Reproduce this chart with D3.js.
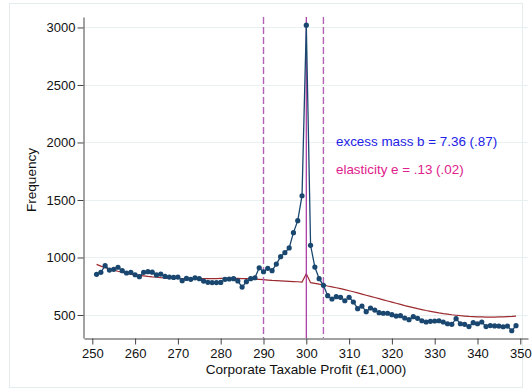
<!DOCTYPE html>
<html>
<head>
<meta charset="utf-8">
<script src="https://cdn.jsdelivr.net/npm/d3@7"></script>
<style>
  body { margin: 0; background: #fff; }
  text { font-family: "Liberation Sans", Arial, sans-serif; }
</style>
</head>
<body>
<div class="chart"></div>
<script>
const bins = d3.range(251, 350);
const frequency = [
  854, 871, 929, 891, 897, 915, 885, 865, 871, 850,
  833, 871, 877, 872, 848, 856, 835, 830, 827, 830,
  798, 818, 810, 823, 816, 795, 784, 782, 782, 783,
  810, 813, 816, 796, 743, 790, 816, 824, 910, 876,
  906, 885, 943, 1007, 1042, 1083, 1216, 1320, 1537, 3020,
  1106, 917, 816, 758, 668, 639, 659, 654, 624, 654,
  613, 555, 578, 529, 561, 543, 520, 515, 515, 503,
  491, 494, 474, 459, 485, 471, 450, 439, 445, 448,
  450, 439, 424, 419, 468, 424, 419, 399, 433, 424,
  439, 399, 408, 405, 404, 398, 404, 363, 407
];
const counterfactual = [
  940, 925, 912, 900, 890, 880, 871, 863, 856, 850,
  845, 840, 835, 831, 828, 825, 823, 821, 819, 818,
  817, 816, 816, 816, 816, 816, 816, 817, 817, 818,
  818, 818, 818, 818, 817, 816, 814, 812, 810, 807,
  804, 801, 799, 797, 795, 793, 791, 789, 786, 858,
  781, 775, 768, 761, 752, 745, 737, 729, 720, 711,
  702, 692, 682, 672, 662, 652, 642, 632, 622, 612,
  602, 592, 582, 573, 564, 555, 547, 539, 532, 525,
  518, 512, 507, 502, 498, 494, 491, 488, 486, 484,
  483, 482, 482, 482, 483, 484, 486, 488, 491
];
const xTicks = [250, 260, 270, 280, 290, 300, 310, 320, 330, 340, 350];
const yTicks = [500, 1000, 1500, 2000, 2500, 3000];
const windowLines = [290, 304];
const threshold = 300;
const notes = ['excess mass b = 7.36 (.87)', 'elasticity e = .13 (.02)'];

function displayChart() {
  const w = 532;
  const h = 391;
  const plot = { left: 84, right: 528, top: 17, bottom: 338 };

  const xScale = d3.scaleLinear()
    .domain([248.06, 351.8])
    .range([plot.left, plot.right]);
  const yScale = d3.scaleLinear()
    .domain([300, 3091])
    .range([plot.bottom, plot.top]);

  const svg = d3.select('.chart')
    .append('svg')
    .attr('width', w)
    .attr('height', h);

  // outer graph region
  svg.append('rect')
    .attr('x', 9.5)
    .attr('y', 3.5)
    .attr('width', 513)
    .attr('height', 384)
    .attr('fill', '#fff')
    .attr('stroke', '#e4ecee');

  // gridlines
  svg.append('g')
    .selectAll('line')
    .data(yTicks)
    .enter()
    .append('line')
    .attr('x1', plot.left)
    .attr('x2', plot.right)
    .attr('y1', (d) => Math.round(yScale(d)) + 0.5)
    .attr('y2', (d) => Math.round(yScale(d)) + 0.5)
    .attr('stroke', '#e8f0f1');

  const yAxis = svg.append('g')
    .attr('transform', `translate(${plot.left - 0.5}, 0)`)
    .call(d3.axisLeft(yScale).tickValues(yTicks).tickFormat(d3.format('d'))
      .tickSize(6).tickPadding(2).tickSizeOuter(0));
  const xAxis = svg.append('g')
    .attr('transform', `translate(0, ${plot.bottom + 0.5})`)
    .call(d3.axisBottom(xScale).tickValues(xTicks).tickFormat(d3.format('d'))
      .tickSize(6).tickPadding(4).tickSizeOuter(0));

  [yAxis, xAxis].forEach((a) => {
    a.select('.domain').attr('stroke', '#444');
    a.selectAll('.tick line').attr('stroke', '#444');
    a.selectAll('.tick text')
      .attr('fill', '#111')
      .style('font-size', '13px')
      .style('font-family', '"Liberation Sans", Arial, sans-serif');
  });

  svg.append('text')
    .attr('transform', 'rotate(-90)')
    .attr('x', -180)
    .attr('y', 36)
    .attr('text-anchor', 'middle')
    .attr('fill', '#111')
    .style('font-size', '13.6px')
    .text('Frequency');

  svg.append('text')
    .attr('x', 306)
    .attr('y', 374)
    .attr('text-anchor', 'middle')
    .attr('fill', '#111')
    .style('font-size', '13.6px')
    .text('Corporate Taxable Profit (£1,000)');

  // counterfactual fit
  const line = d3.line()
    .x((d, i) => xScale(bins[i]))
    .y((d) => yScale(d));

  svg.append('path')
    .datum(counterfactual)
    .attr('d', line)
    .attr('fill', 'none')
    .attr('stroke', '#9c2a2e')
    .attr('stroke-width', 1.2);

  // excluded window + threshold
  svg.selectAll('.window')
    .data(windowLines)
    .enter()
    .append('line')
    .attr('class', 'window')
    .attr('x1', (d) => xScale(d))
    .attr('x2', (d) => xScale(d))
    .attr('y1', plot.top)
    .attr('y2', plot.bottom)
    .attr('stroke', '#b462b6')
    .attr('stroke-width', 1.4)
    .attr('stroke-dasharray', '7,3');

  svg.append('line')
    .attr('x1', xScale(threshold))
    .attr('x2', xScale(threshold))
    .attr('y1', plot.top)
    .attr('y2', plot.bottom)
    .attr('stroke', '#a8309f')
    .attr('stroke-width', 1.2);

  // observed frequency
  svg.append('path')
    .datum(frequency)
    .attr('d', line)
    .attr('fill', 'none')
    .attr('stroke', '#1a476f')
    .attr('stroke-width', 1.3);

  svg.selectAll('.pt')
    .data(frequency)
    .enter()
    .append('circle')
    .attr('class', 'pt')
    .attr('cx', (d, i) => xScale(bins[i]))
    .attr('cy', (d) => yScale(d))
    .attr('r', 2.6)
    .attr('fill', '#1a476f');

  svg.append('text')
    .attr('x', 336)
    .attr('y', 146)
    .attr('fill', '#2222e6')
    .style('font-size', '13.4px')
    .text(notes[0]);

  svg.append('text')
    .attr('x', 336)
    .attr('y', 174)
    .attr('fill', '#e0208c')
    .style('font-size', '13.4px')
    .text(notes[1]);
}

displayChart();
</script>
</body>
</html>
